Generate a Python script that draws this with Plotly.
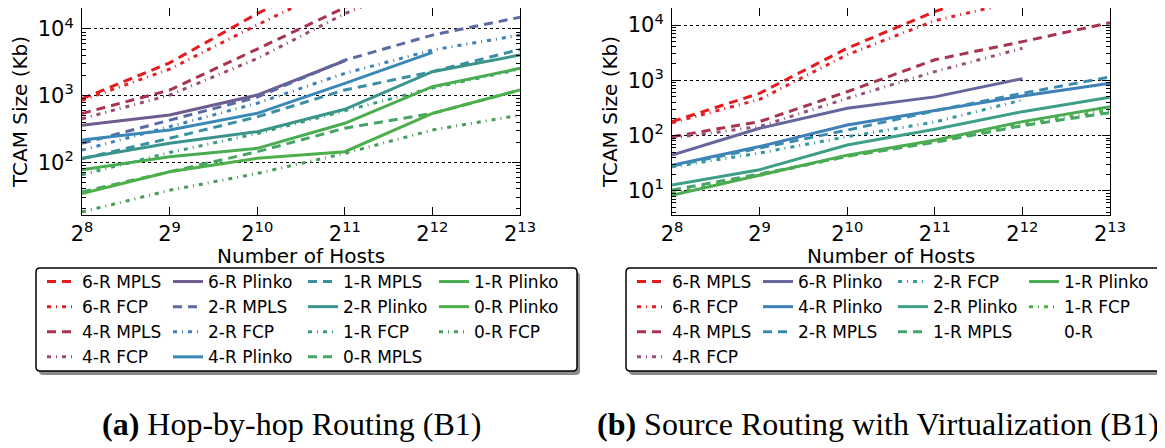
import plotly.graph_objects as go
import math

# page is 1165x448; the html body adds an 8px margin, so the figure is 8px smaller
OFF = 8
W, H = 1165 - OFF, 448 - OFF

# ---------------- data ----------------
hosts = [256, 512, 1024, 2048, 4096, 8192]
x_tick_text = ["2<sup>8</sup>", "2<sup>9</sup>", "2<sup>10</sup>", "2<sup>11</sup>", "2<sup>12</sup>", "2<sup>13</sup>"]

# (a) Hop-by-hop Routing (B1)
a_6R_MPLS = [900, 3100, 17000, 75000]
a_6R_FCP = [850, 2500, 11500, 50000]
a_4R_MPLS = [540, 1210, 5000, 21000, 80000]
a_4R_FCP = [450, 1020, 3600, 17000, 60000]
a_6R_Plinko = [360, 512, 1020, 3340]
a_2R_MPLS = [193, 430, 950, 3400, 8100, 15000]
a_2R_FCP = [152, 341, 770, 2160, 4830, 8100]
a_4R_Plinko = [216, 305, 543, 1530, 4460]
a_1R_MPLS = [113, 229, 480, 1215, 2290, 4940]
a_2R_Plinko = [115, 193, 288, 624, 2290, 4070]
a_1R_FCP = [65, 140, 270, 600, 1300, 2500]
a_0R_MPLS = [36, 72, 144, 325, 540, 1215]
a_1R_Plinko = [77, 121, 162, 385, 1360, 2570]
a_0R_Plinko = [34, 72, 115, 144, 543, 1215]
a_0R_FCP = [18, 38, 68, 136, 305, 510]

# (b) Source Routing with Virtualization (B1)
b_6R_MPLS = [178, 580, 3800, 17500, 60000]
b_6R_FCP = [170, 450, 2900, 12000, 28000]
b_4R_MPLS = [95, 178, 620, 2350, 5000, 11000]
b_4R_FCP = [90, 145, 470, 1430, 3800]
b_6R_Plinko = [44, 135, 310, 500, 1070]
b_4R_Plinko = [29, 63, 155, 280, 520, 880]
b_2R_MPLS = [28, 60, 125, 280, 580, 1150]
b_2R_FCP = [27, 48, 95, 175, 440]
b_2R_Plinko = [12.7, 24, 67, 130, 270, 490]
b_1R_MPLS = [10.3, 20, 42, 75, 150, 260]
b_1R_Plinko = [8.3, 19, 44, 82, 178, 330]
b_1R_FCP = [9, 19, 42, 78, 160, 290]
b_0R = []

# legend columns (column-major, as in the reference)
a_columns = [
    [("6-R MPLS", a_6R_MPLS), ("6-R FCP", a_6R_FCP), ("4-R MPLS", a_4R_MPLS), ("4-R FCP", a_4R_FCP)],
    [("6-R Plinko", a_6R_Plinko), ("2-R MPLS", a_2R_MPLS), ("2-R FCP", a_2R_FCP), ("4-R Plinko", a_4R_Plinko)],
    [("1-R MPLS", a_1R_MPLS), ("2-R Plinko", a_2R_Plinko), ("1-R FCP", a_1R_FCP), ("0-R MPLS", a_0R_MPLS)],
    [("1-R Plinko", a_1R_Plinko), ("0-R Plinko", a_0R_Plinko), ("0-R FCP", a_0R_FCP)],
]
b_columns = [
    [("6-R MPLS", b_6R_MPLS), ("6-R FCP", b_6R_FCP), ("4-R MPLS", b_4R_MPLS), ("4-R FCP", b_4R_FCP)],
    [("6-R Plinko", b_6R_Plinko), ("4-R Plinko", b_4R_Plinko), ("2-R MPLS", b_2R_MPLS)],
    [("2-R FCP", b_2R_FCP), ("2-R Plinko", b_2R_Plinko), ("1-R MPLS", b_1R_MPLS)],
    [("1-R Plinko", b_1R_Plinko), ("1-R FCP", b_1R_FCP), ("0-R", b_0R)],
]

a_colors = {
    "6-R MPLS": "#e41a1c", "6-R FCP": "#df2229", "4-R MPLS": "#a8344f", "4-R FCP": "#9a4a70",
    "6-R Plinko": "#6f5b8e", "2-R MPLS": "#5a6aa2", "2-R FCP": "#3f80b8", "4-R Plinko": "#3a88b6",
    "1-R MPLS": "#3a8fa3", "2-R Plinko": "#3a948b", "1-R FCP": "#3c9b78", "0-R MPLS": "#46a562",
    "1-R Plinko": "#4aac50", "0-R Plinko": "#4daf4a", "0-R FCP": "#4c9a5a",
}
b_colors = {
    "6-R MPLS": "#e41a1c", "6-R FCP": "#df2229", "4-R MPLS": "#a8344f", "4-R FCP": "#94527a",
    "6-R Plinko": "#66659c", "4-R Plinko": "#3f7fba", "2-R MPLS": "#3a8cae", "2-R FCP": "#35989e",
    "2-R Plinko": "#3e9e86", "1-R MPLS": "#45a46a", "1-R Plinko": "#4aab52", "1-R FCP": "#4daf4a",
    "0-R": "#4daf4a",
}

# ---------------- helpers (page pixel -> paper) ----------------
def px_x(x):
    return (x - OFF) / W

def px_y(y):
    return 1 - (y - OFF) / H

def dash_of(name):
    if "MPLS" in name:
        return "9px,6px"
    if "FCP" in name:
        return "4px,5px,1px,5px"
    return "solid"

FONT = "DejaVu Sans"
fig = go.Figure()

legend_x_a = [42, 168, 303, 434]
legend_x_b = [632, 758, 893, 1024]
legend_top = 264

legend_layouts = {}
lid = 1
for columns, colors, xa, ya, lx in [
    (a_columns, a_colors, "x", "y", legend_x_a),
    (b_columns, b_colors, "x2", "y2", legend_x_b),
]:
    for ci, col in enumerate(columns):
        lname = "legend" if lid == 1 else f"legend{lid}"
        legend_layouts[lname] = dict(
            x=px_x(lx[ci]), y=px_y(legend_top), xanchor="left", yanchor="top",
            bgcolor="rgba(0,0,0,0)", borderwidth=0, itemwidth=30,
            font=dict(family=FONT, size=17, color="black"),
            tracegroupgap=0, traceorder="normal", orientation="v",
        )
        for name, vals in col:
            width = 0 if len(vals) == 0 else 3
            fig.add_trace(go.Scatter(
                x=hosts[:len(vals)] if vals else [None], y=vals if vals else [None],
                mode="lines", name=name, legend=lname,
                line=dict(color=colors[name], width=width, dash=dash_of(name)),
                xaxis=xa, yaxis=ya, hoverinfo="skip",
            ))
        lid += 1

# minor ticks for log y axes
def minor_vals(lo, hi):
    out = []
    for e in range(lo, hi + 1):
        for k in range(2, 10):
            out.append(k * 10 ** e)
    return out

axis_common = dict(
    type="log", showline=True, linecolor="black", linewidth=1, mirror="allticks",
    ticks="inside", ticklen=8, tickwidth=1, tickcolor="black", automargin=False,
    tickfont=dict(family=FONT, size=21, color="black"), zeroline=False,
)

xa_common = dict(axis_common, range=[math.log10(256), math.log10(8192)],
                 tickvals=hosts, ticktext=x_tick_text, showgrid=False)

fig.update_layout(
    width=W, height=H, margin=dict(l=0, r=0, t=0, b=0, autoexpand=False),
    paper_bgcolor="white", plot_bgcolor="white",
    xaxis=dict(xa_common, domain=[px_x(82), px_x(520)], anchor="y"),
    xaxis2=dict(xa_common, domain=[px_x(672), px_x(1110)], anchor="y2"),
    yaxis=dict(axis_common, domain=[px_y(215), px_y(8)], anchor="x",
               range=[1.209, 4.315], tickvals=[100, 1000, 10000],
               ticktext=["10<sup>2</sup>", "10<sup>3</sup>", "10<sup>4</sup>"],
               showgrid=True, gridcolor="black", griddash="dot", gridwidth=1,
               ticklabelstandoff=3,
               minor=dict(tickvals=minor_vals(1, 4), ticks="inside", ticklen=4, tickcolor="black", showgrid=False),
               title=dict(text="TCAM Size (Kb)", font=dict(family=FONT, size=20, color="black"), standoff=8)),
    yaxis2=dict(axis_common, domain=[px_y(215), px_y(8)], anchor="x2",
                range=[0.560, 4.308], tickvals=[10, 100, 1000, 10000],
                ticktext=["10<sup>1</sup>", "10<sup>2</sup>", "10<sup>3</sup>", "10<sup>4</sup>"],
                showgrid=True, gridcolor="black", griddash="dot", gridwidth=1,
                ticklabelstandoff=3,
                minor=dict(tickvals=minor_vals(0, 4), ticks="inside", ticklen=4, tickcolor="black", showgrid=False),
                title=dict(text="TCAM Size (Kb)", font=dict(family=FONT, size=20, color="black"), standoff=4)),
    showlegend=True,
    **legend_layouts,
)

# legend boxes (with shadow)
def rounded_rect(x0, y0, x1, y1, r=4):
    X0, X1 = px_x(x0), px_x(x1)
    Y0, Y1 = px_y(y0), px_y(y1)
    rx, ry = r / W, r / H
    return (f"M{X0+rx},{Y0} L{X1-rx},{Y0} Q{X1},{Y0} {X1},{Y0-ry} "
            f"L{X1},{Y1+ry} Q{X1},{Y1} {X1-rx},{Y1} L{X0+rx},{Y1} "
            f"Q{X0},{Y1} {X0},{Y1+ry} L{X0},{Y0-ry} Q{X0},{Y0} {X0+rx},{Y0} Z")

shapes = []
for (x0, x1) in [(36, 577), (626, 1161)]:
    shapes.append(dict(type="path", xref="paper", yref="paper", path=rounded_rect(x0 + 3, 272, x1 + 3, 375),
                       fillcolor="#8c8c8c", line=dict(width=0), layer="below"))
    shapes.append(dict(type="path", xref="paper", yref="paper", path=rounded_rect(x0, 268, x1, 371),
                       fillcolor="white", line=dict(color="black", width=1.5), layer="below"))
fig.update_layout(shapes=shapes)

# x-axis titles
for cx in (301, 891):
    fig.add_annotation(x=px_x(cx), y=px_y(256), xref="paper", yref="paper", showarrow=False,
                       text="Number of Hosts", xanchor="center", yanchor="middle",
                       font=dict(family=FONT, size=20, color="black"))

# captions
CAP = "Liberation Serif"
fig.add_annotation(x=px_x(100), y=px_y(424), xref="paper", yref="paper", showarrow=False,
                   text="<b>(a)</b> Hop-by-hop Routing (B1)", xanchor="left", yanchor="middle",
                   font=dict(family=CAP, size=32, color="black"))
fig.add_annotation(x=px_x(1161), y=px_y(424), xref="paper", yref="paper", showarrow=False,
                   text="<b>(b)</b> Source Routing with Virtualization (B1)", xanchor="right", yanchor="middle",
                   font=dict(family=CAP, size=32, color="black"))

fig.write_html("out.html")
